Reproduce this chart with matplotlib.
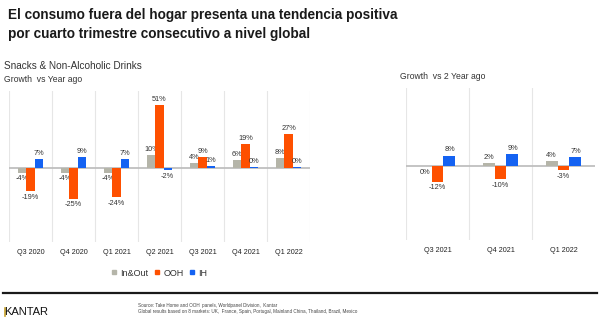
import matplotlib
matplotlib.use("Agg")
import matplotlib.pyplot as plt
import numpy as np
from matplotlib.lines import Line2D

plt.rcParams['font.family'] = ['Liberation Sans', 'DejaVu Sans']

# ---- data ----
quarters_ya = ["Q3 2020", "Q4 2020", "Q1 2021", "Q2 2021", "Q3 2021", "Q4 2021", "Q1 2022"]
inout_ya = [-4, -4, -4, 10, 4, 6, 8]
ooh_ya = [-19, -25, -24, 51, 9, 19, 27]
ih_ya = [7, 9, 7, -2, 1, 0.4, 0.4]

quarters_2ya = ["Q3 2021", "Q4 2021", "Q1 2022"]
inout_2ya = [-0.3, 2, 4]
ooh_2ya = [-12, -10, -3]
ih_2ya = [8, 9, 7]

series_names = ["In&Out", "OOH", "IH"]
colors = ["#b5b5a9", "#fe5000", "#1462f2"]

W, H = 600, 324
fig = plt.figure(figsize=(6, 3.24), dpi=100)


def fx(px):
    return px / W


def fy(py):
    return 1 - py / H


def draw_panel(ax, cats, series, ylim, bw, right_edge=True):
    n = len(cats)
    x = np.arange(n)
    for i, (vals, col) in enumerate(zip(series, colors)):
        pos = x + (i - 1) * bw
        ax.bar(pos, vals, width=bw, color=col, zorder=3)
        for p, v in zip(pos, vals):
            lab = f"{int(round(v))}%"
            if v >= 0:
                ax.annotate(lab, (p, v), xytext=(0, 1.5), textcoords="offset points",
                            ha="center", va="bottom", fontsize=5.3, color="#333333")
            else:
                ax.annotate(lab, (p, v), xytext=(0, -2), textcoords="offset points",
                            ha="center", va="top", fontsize=5.3, color="#333333")
    ax.set_xlim(-0.5, n - 0.5)
    ax.set_ylim(*ylim)
    bounds = np.arange(n + 1) - 0.5
    if not right_edge:
        bounds = bounds[:-1]
    for b in bounds:
        ax.axvline(b, color="#e6e6e6", lw=0.8, zorder=1)
    ax.axhline(0, color="#bfbfbf", lw=1.3, zorder=2)
    ax.set_xticks(x)
    ax.set_xticklabels(cats, fontsize=5.2, color="#222222")
    ax.tick_params(axis="x", length=0, pad=5)
    ax.set_yticks([])
    for s in ax.spines.values():
        s.set_visible(False)


# left panel
axL = fig.add_axes([fx(9), fy(242), fx(301), (242 - 91) / H])
draw_panel(axL, quarters_ya, [inout_ya, ooh_ya, ih_ya], (-60, 62), 0.19)

# right panel
axR = fig.add_axes([fx(406), fy(240), fx(189), (240 - 88) / H])
draw_panel(axR, quarters_2ya, [inout_2ya, ooh_2ya, ih_2ya], (-57, 60), 0.19, right_edge=False)

# legend
handles = [Line2D([], [], marker="s", linestyle="none", markersize=3.2,
                  markerfacecolor=c, markeredgecolor=c) for c in colors]
fig.legend(handles, series_names, loc="center", bbox_to_anchor=(fx(159), fy(273)),
           ncol=3, frameon=False, fontsize=6.5, handlelength=0.8, handletextpad=0.3,
           columnspacing=0.55, labelcolor="#333333")

# titles
fig.text(fx(8), fy(15), "El consumo fuera del hogar presenta una tendencia positiva",
         fontsize=9.85, fontweight="bold", color="#1a1a1a", va="center", ha="left")
fig.text(fx(8), fy(34), "por cuarto trimestre consecutivo a nivel global",
         fontsize=9.85, fontweight="bold", color="#1a1a1a", va="center", ha="left")
fig.text(fx(4), fy(66), "Snacks & Non-Alcoholic Drinks", fontsize=7.2, color="#333333",
         va="center", ha="left")
fig.text(fx(4), fy(80), "Growth  vs Year ago", fontsize=6.2, color="#333333",
         va="center", ha="left")
fig.text(fx(400), fy(77), "Growth  vs 2 Year ago", fontsize=6.2, color="#333333",
         va="center", ha="left")

# footer
fig.add_artist(Line2D([fx(3), fx(597)], [fy(293), fy(293)], color="#1a1a1a", lw=1.6))
fig.text(fx(4), fy(312), "KANTAR", fontsize=8.0, color="#111111", va="center", ha="left")
fig.add_artist(Line2D([fx(5), fx(5)], [fy(316), fy(308)], color="#c9a227", lw=1.2))
fig.text(fx(138), fy(305), "Source: Take Home and OOH  panels, Worldpanel Division,  Kantar",
         fontsize=3.3, color="#444444", va="center", ha="left")
fig.text(fx(138), fy(311),
         "Global results based on 8 markets: UK,  France, Spain, Portugal, Mainland China, Thailand, Brazil, Mexico",
         fontsize=3.3, color="#444444", va="center", ha="left")

fig.savefig("out.png", dpi=100, facecolor="white")
